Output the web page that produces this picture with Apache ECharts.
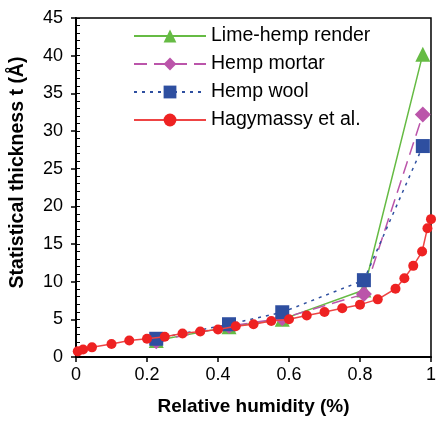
<!DOCTYPE html>
<html>
<head>
<meta charset="utf-8">
<script src="https://cdn.jsdelivr.net/npm/echarts@6/dist/echarts.min.js"></script>
<style>
  html, body { margin: 0; padding: 0; background: #fff; }
  #chart { width: 439px; height: 421px; }
</style>
</head>
<body>
<div id="chart"></div>
<script>
// Lime-hemp render
var limeX = [0.226, 0.431, 0.581, 0.811, 0.977];
var limeY = [2.2, 4.0, 5.0, 8.9, 40.2];
// Hemp mortar
var mortarX = [0.226, 0.431, 0.581, 0.811, 0.977];
var mortarY = [2.1, 4.1, 5.15, 8.35, 32.2];
// Hemp wool
var woolX = [0.226, 0.431, 0.581, 0.811, 0.977];
var woolY = [2.42, 4.35, 5.94, 10.2, 28.0];
// Hagymassy et al.
var hagX = [0.005, 0.02, 0.045, 0.1, 0.15, 0.2, 0.25, 0.3, 0.35, 0.4, 0.45, 0.5, 0.55,
  0.6, 0.65, 0.7, 0.75, 0.8, 0.85, 0.9, 0.925, 0.95, 0.975, 0.99, 1.0];
var hagY = [0.75, 1.0, 1.28, 1.72, 2.2, 2.42, 2.68, 3.12, 3.39, 3.65, 4.09, 4.35, 4.79,
  5.01, 5.5, 5.98, 6.46, 6.95, 7.65, 9.06, 10.46, 12.1, 14.0, 17.1, 18.3];

var xTicks = [0, 0.2, 0.4, 0.6, 0.8, 1];

function pairs(xs, ys) {
  return xs.map(function (x, i) { return [x, ys[i]]; });
}

var font = 'Liberation Sans, Arial, sans-serif';
var chart = echarts.init(document.getElementById('chart'));
var option = {
  animation: false,
  textStyle: { fontFamily: font },
  legend: {
    orient: 'vertical',
    left: 128,
    top: 21,
    itemWidth: 72,
    itemHeight: 16,
    itemGap: 8,
    textStyle: { fontSize: 19.5, color: '#000', fontFamily: font },
    data: ['Lime-hemp render', 'Hemp mortar', 'Hemp wool', 'Hagymassy et al.']
  },
  grid: {
    left: 76,
    right: 2,
    top: 18,
    bottom: 62,
    show: true,
    borderColor: '#000',
    borderWidth: 1.5
  },
  xAxis: {
    type: 'value',
    min: 0,
    max: 1,
    interval: 0.2,
    name: 'Relative humidity (%)',
    nameLocation: 'middle',
    nameGap: 40,
    nameTextStyle: { fontSize: 19, fontWeight: 'bold', color: '#000', fontFamily: font },
    axisLine: { lineStyle: { color: '#000', width: 2 } },
    axisTick: { show: true, length: 5, lineStyle: { color: '#000', width: 1.5 } },
    axisLabel: {
      fontSize: 18, color: '#000', margin: 9,
      formatter: function (v) { return xTicks.indexOf(v) >= 0 ? String(v) : ''; }
    },
    splitLine: { show: false }
  },
  yAxis: [
    {
      type: 'value',
      min: 0,
      max: 45,
      interval: 5,
      name: 'Statistical thickness t (Å)',
      nameLocation: 'middle',
      nameGap: 48,
      nameTextStyle: {
        fontSize: 19.5, fontWeight: 'bold', color: '#000', fontFamily: font,
        padding: [0, 0, 0, 30]
      },
      axisLine: { show: true, lineStyle: { color: '#000', width: 2 } },
      axisTick: { show: true, length: 5, lineStyle: { color: '#000', width: 1.5 } },
      axisLabel: { fontSize: 18, color: '#000', margin: 13 },
      splitLine: { show: false }
    },
    {
      type: 'value',
      min: 0,
      max: 45,
      interval: 1,
      position: 'left',
      axisLine: { show: false },
      axisTick: { show: true, inside: true, length: 4, lineStyle: { color: '#000', width: 1 } },
      axisLabel: { show: false },
      splitLine: { show: false }
    }
  ],
  series: [
    {
      name: 'Lime-hemp render',
      type: 'line',
      data: pairs(limeX, limeY),
      symbol: 'triangle',
      symbolSize: 15,
      itemStyle: { color: '#66bb44' },
      lineStyle: { color: '#66bb44', width: 1.5 },
      z: 3
    },
    {
      name: 'Hemp mortar',
      type: 'line',
      data: pairs(mortarX, mortarY),
      symbol: 'diamond',
      symbolSize: 16,
      itemStyle: { color: '#bb55aa' },
      lineStyle: { color: '#bb55aa', width: 1.5, type: [13, 7] },
      z: 4
    },
    {
      name: 'Hemp wool',
      type: 'line',
      data: pairs(woolX, woolY),
      symbol: 'rect',
      symbolSize: 14,
      itemStyle: { color: '#2e4fa0' },
      lineStyle: { color: '#2e4fa0', width: 1.5, type: [3, 5] },
      z: 5
    },
    {
      name: 'Hagymassy et al.',
      type: 'line',
      data: pairs(hagX, hagY),
      symbol: 'circle',
      symbolSize: 10,
      itemStyle: { color: '#ee2222' },
      lineStyle: { color: '#ee4444', width: 1.5 },
      z: 6
    }
  ]
};
chart.setOption(option);
</script>
</body>
</html>
